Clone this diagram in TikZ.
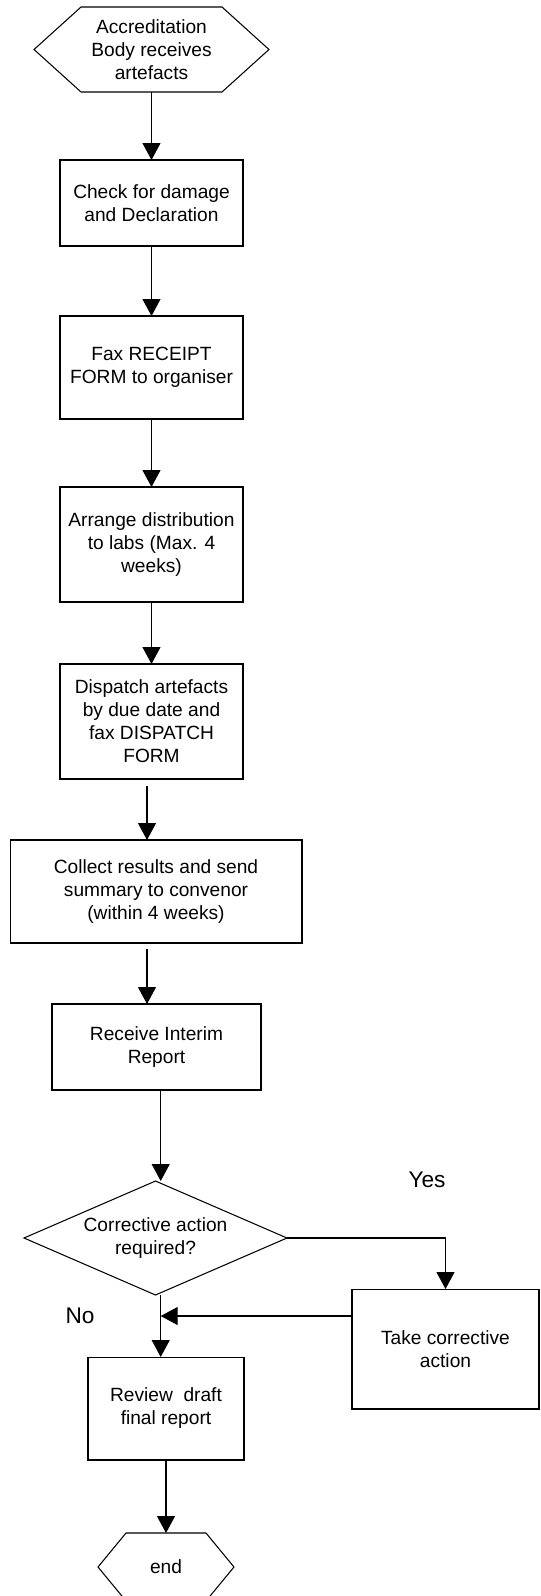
\documentclass[tikz,border=0pt]{standalone}
\usepackage{fontspec}
\setmainfont{Liberation Sans}
\usetikzlibrary{arrows.meta,shapes.geometric,calc}
\begin{document}
\begin{tikzpicture}[x=0.02cm,y=-0.02cm,line width=0.6pt,
  txt/.style={align=center,inner sep=0pt,outer sep=0pt,font=\fontsize{10.9}{13.1}\selectfont},
  box/.style={txt,draw,rectangle},
  decision/.style={txt,draw,diamond,aspect=2.3},
  lbl/.style={inner sep=0pt,font=\fontsize{12.9}{15}\selectfont},
  arr/.style={-{Triangle[width=0.36cm,length=0.34cm]}}]
\useasboundingbox (0,0) rectangle (541,1596);
\node[txt,minimum width=4.7cm,minimum height=1.7cm] (recv) at (151.5,49.5) {Accreditation\\Body receives\\artefacts};
\draw (recv.west) -- ($(recv.north west)+(47,0)$) -- ($(recv.north east)+(-47,0)$) -- (recv.east) -- ($(recv.south east)+(-47,0)$) -- ($(recv.south west)+(47,0)$) -- cycle;
\node[box,minimum width=3.66cm,minimum height=1.72cm] (check) at (151.5,203) {Check for damage\\and Declaration};
\node[box,minimum width=3.66cm,minimum height=2.06cm] (fax) at (151.5,367.5) {Fax RECEIPT\\FORM to organiser};
\node[box,minimum width=3.66cm,minimum height=2.3cm] (arrange) at (151.5,544.5) {Arrange distribution\\to labs (Max. 4\\weeks)};
\node[box,minimum width=3.66cm,minimum height=2.3cm] (dispatch) at (151.5,721.5) {Dispatch artefacts\\by due date and\\fax DISPATCH\\FORM};
\node[box,minimum width=5.84cm,minimum height=2.06cm] (collect) at (156,891.5) {Collect results and send\\summary to convenor\\(within 4 weeks)};
\node[box,minimum width=4.18cm,minimum height=1.72cm] (interim) at (156.5,1047) {Receive Interim\\Report};
\node[decision,minimum width=5.26cm,minimum height=2.28cm] (corr) at (155.5,1238) {Corrective action\\required?};
\node[box,minimum width=3.74cm,minimum height=2.4cm] (take) at (445.5,1349) {Take corrective\\action};
\node[box,minimum width=3.12cm,minimum height=2.06cm] (review) at (166,1408.5) {Review\ \ draft\\final report};
\node[txt,minimum width=2.72cm,minimum height=1.36cm] (fin) at (166,1567) {end};
\draw (fin.west) -- ($(fin.north west)+(28,0)$) -- ($(fin.north east)+(-28,0)$) -- (fin.east) -- ($(fin.south east)+(-28,0)$) -- ($(fin.south west)+(28,0)$) -- cycle;
\node[lbl] (yes) at (427,1180) {Yes};
\node[lbl] (no) at (80,1315.5) {No};
\coordinate (d1) at (147,786);
\coordinate (c1) at (147,949);
\coordinate (i1) at (160.7,1090);
\coordinate (j) at (160.7,1316);
\draw[arr] (recv.south) -- (check.north);
\draw[arr] (check.south) -- (fax.north);
\draw[arr] (fax.south) -- (arrange.north);
\draw[arr] (arrange.south) -- (dispatch.north);
\draw[arr] (d1) -- (d1 |- collect.north);
\draw[arr] (c1) -- (c1 |- interim.north);
\draw[arr] (i1) -- (i1 |- corr.north);
\draw[arr] (corr.east) -| (take.north);
\draw (j |- corr.south) -- (j);
\draw[arr] (take.west |- j) -- (j);
\draw[arr] (j) -- (j |- review.north);
\draw[arr] (review.south) -- (fin.north);
\end{tikzpicture}
\end{document}
